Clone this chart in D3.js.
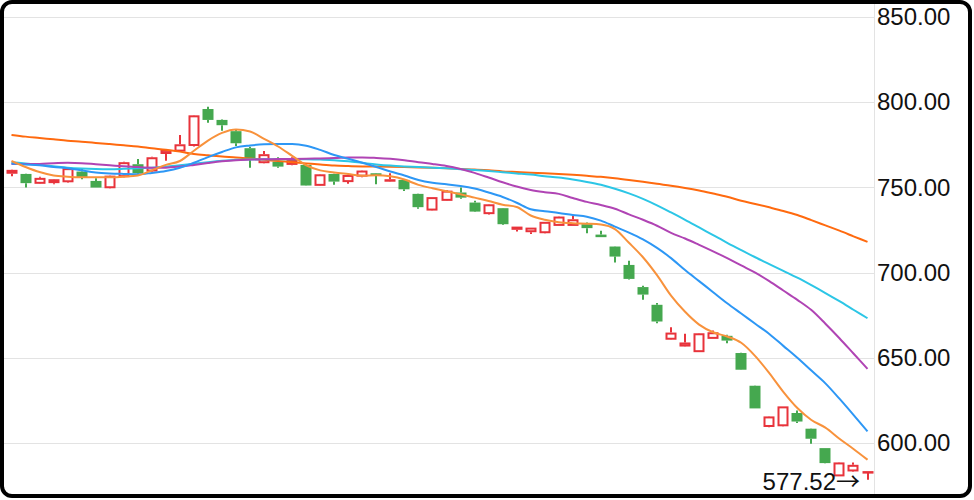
<!DOCTYPE html>
<html><head><meta charset="utf-8">
<script src="https://cdn.jsdelivr.net/npm/d3@7"></script>
<style>html,body{margin:0;padding:0;background:#fff;}svg{display:block;}</style>
</head><body>
<svg id="chart" width="974" height="500"></svg>
<script>
// ---- data ----
const opens  = [758.0,757.9,752.1,752.5,753.0,759.3,753.8,749.5,756.0,763.6,759.3,769.6,771.0,774.3,796.0,789.6,783.0,773.0,764.2,765.1,763.2,763.2,750.9,757.9,753.1,756.3,758.3,753.4,754.4,746.2,736.4,742.1,747.0,741.1,734.3,737.8,725.1,723.7,723.1,727.4,727.4,728.4,722.3,715.3,704.5,691.5,681.1,660.6,656.6,653.3,661.1,662.9,652.8,633.6,609.4,609.8,617.6,608.4,597.0,580.4,583.3,582.6];
const highs  = [760.5,758.0,756.2,755.0,761.5,761.3,755.4,757.0,765.0,766.7,768.0,772.0,780.8,792.5,797.4,789.8,784.1,773.9,771.4,767.7,767.7,763.5,757.8,758.0,757.4,760.0,758.5,758.3,755.0,746.3,744.4,748.5,749.9,742.1,740.2,737.9,727.0,726.5,729.9,733.0,733.3,729.4,724.5,715.4,706.9,692.3,682.1,668.0,664.1,664.5,666.0,663.5,652.9,633.7,615.7,621.6,619.0,608.5,597.1,588.7,588.6,583.6];
const lows   = [756.5,749.9,752.0,751.9,752.8,754.8,749.9,749.4,755.8,757.5,759.0,765.7,771.0,774.0,788.0,783.3,774.3,761.6,764.0,761.6,763.0,751.0,750.8,751.5,752.1,756.0,751.9,753.3,747.9,737.4,736.3,742.0,743.4,735.5,734.0,728.0,724.1,722.7,723.0,727.3,727.3,723.1,720.8,705.9,696.0,684.0,670.3,660.5,656.5,653.2,661.0,658.6,642.9,620.2,609.3,609.7,611.7,599.6,588.1,580.3,583.0,578.4];
const closes = [760.3,752.5,755.6,754.8,761.3,755.7,749.9,756.9,764.8,758.3,767.7,772.0,775.3,792.3,789.6,786.5,775.9,767.1,769.5,762.2,766.1,751.1,757.7,753.4,757.3,759.9,756.7,754.8,748.9,738.4,744.3,748.1,744.0,735.8,740.1,728.4,727.0,726.4,729.8,732.9,731.3,726.1,720.8,709.4,696.3,687.1,671.3,664.8,659.0,664.4,665.0,660.1,643.0,620.3,615.6,621.5,612.6,602.5,588.2,588.6,587.2,583.5];

const maLong  = [780.8,779.8,779.0,778.2,777.4,776.8,776.1,775.4,774.7,774.0,773.0,772.1,771.0,769.6,768.8,768.1,767.6,766.9,766.2,765.5,764.8,764.1,763.4,762.8,762.5,762.3,762.2,762.1,761.9,761.7,761.5,761.2,760.8,760.5,760.0,759.4,759.0,758.6,758.3,757.9,757.4,756.8,756.2,755.4,754.4,753.3,752.1,751.0,749.7,748.2,746.4,744.5,742.2,740.3,738.3,736.2,733.8,730.8,727.7,724.6,721.3,718.0];
const maCyan  = [764.8,764.0,763.2,762.4,761.6,761.1,760.8,760.7,760.9,761.2,761.6,762.1,763.0,763.9,764.8,765.6,766.2,766.4,766.5,766.5,766.5,766.5,766.3,766.0,765.3,764.4,763.5,762.8,762.3,761.9,761.6,761.2,760.7,760.2,759.6,758.9,758.2,757.5,756.6,755.8,754.6,753.2,751.5,749.2,746.5,743.3,739.5,735.3,731.0,726.5,722.0,717.5,713.2,709.0,705.0,701.0,697.0,692.6,688.0,683.2,678.2,673.2];
const maPurple= [763.8,763.7,763.8,764.2,764.4,764.2,763.6,763.0,762.4,761.9,761.6,761.6,762.2,763.2,764.3,765.3,766.0,766.3,766.5,766.6,766.7,766.8,767.0,767.2,767.5,767.6,767.3,766.8,766.0,764.8,763.8,762.6,760.8,758.5,755.8,753.0,750.5,748.5,747.2,746.2,743.8,741.5,739.7,737.5,734.2,731.0,727.5,723.3,720.0,716.3,712.5,708.5,704.2,700.0,695.0,689.5,684.0,678.0,670.0,661.5,652.5,643.5];
const maBlue  = [764.0,763.5,763.0,762.0,761.3,760.0,758.8,758.2,757.9,757.7,758.5,759.6,761.5,764.5,767.8,770.8,773.5,774.6,775.3,775.5,775.5,774.5,772.0,769.0,766.8,764.5,762.0,759.3,757.0,754.3,752.7,751.8,750.8,749.3,747.0,744.4,741.0,737.2,736.0,735.0,733.8,732.8,730.5,727.0,723.5,719.5,714.5,708.5,701.5,695.0,688.5,682.0,676.0,670.0,664.0,657.0,650.0,642.5,635.0,626.0,616.5,606.8];
const maShort = [765.5,762.0,759.0,757.0,756.3,756.0,756.0,756.0,756.3,757.0,760.0,763.2,765.5,771.5,777.5,782.0,784.0,782.8,778.5,774.0,768.5,763.0,760.0,758.8,757.8,756.8,757.2,756.5,754.6,751.5,749.5,747.8,746.0,744.0,742.0,739.8,738.5,733.5,731.0,729.6,729.0,728.7,728.2,725.5,717.5,709.0,698.5,686.5,677.0,669.5,665.0,662.5,658.8,651.0,641.0,630.0,620.5,613.5,609.0,602.5,596.5,590.2];

const yTicks = [600, 650, 700, 750, 800, 850];
const lastPrice = 577.52;

// ---- layout ----
const W = 974, H = 500;
const plotRight = 874;
const svg = d3.select("#chart");
const n = closes.length;
const x = d3.scaleLinear().domain([0, n - 1]).range([11.5, 867.5]);
const y = d3.scaleLinear().domain([600, 850]).range([443, 17]);
const FONT = "'Liberation Sans', Arial, Helvetica, sans-serif";

svg.append("defs").append("clipPath").attr("id", "pc")
  .append("rect").attr("x", 4).attr("y", 4).attr("width", plotRight - 4).attr("height", 490);

// grid
svg.append("g").selectAll("line").data(yTicks).join("line")
  .attr("x1", 4).attr("x2", plotRight)
  .attr("y1", d => Math.round(y(d)) + 0.5).attr("y2", d => Math.round(y(d)) + 0.5)
  .attr("stroke", "#e3e3e3").attr("stroke-width", 1);

// vertical separator
svg.append("line").attr("x1", plotRight + 0.5).attr("x2", plotRight + 0.5)
  .attr("y1", 4).attr("y2", 496).attr("stroke", "#e3e3e3");

// axis labels
const axis = d3.axisRight(y).tickValues(yTicks).tickFormat(d3.format(".2f")).tickSize(0).tickPadding(3);
const ag = svg.append("g").attr("transform", `translate(${plotRight},0)`).call(axis);
ag.select(".domain").remove();
ag.selectAll("text").attr("font-family", FONT).attr("font-size", 24).attr("fill", "#111");

const plot = svg.append("g").attr("clip-path", "url(#pc)");

const RED = "#e8333b", GREEN = "#45a84f";
const bw = 11;
const candles = d3.range(n).map(i => ({i, o: opens[i], h: highs[i], l: lows[i], c: closes[i]}));
const cg = plot.append("g");
candles.forEach(d => {
  const up = d.c >= d.o;
  const cx = Math.round(x(d.i));
  const top = y(Math.max(d.o, d.c)), bot = y(Math.min(d.o, d.c));
  const col = up ? RED : GREEN;
  cg.append("line").attr("x1", cx).attr("x2", cx).attr("y1", y(d.h)).attr("y2", top)
    .attr("stroke", col).attr("stroke-width", 2);
  cg.append("line").attr("x1", cx).attr("x2", cx).attr("y1", bot).attr("y2", y(d.l))
    .attr("stroke", col).attr("stroke-width", 2);
  if (up) {
    const hgt = Math.max(bot - top, 2);
    cg.append("rect").attr("x", cx - bw / 2 + 1).attr("y", top + 1)
      .attr("width", bw - 2).attr("height", Math.max(hgt - 2, 0.5))
      .attr("fill", "#fff").attr("stroke", col).attr("stroke-width", 2);
  } else {
    cg.append("rect").attr("x", cx - bw / 2).attr("y", top)
      .attr("width", bw).attr("height", Math.max(bot - top, 1.5)).attr("fill", col);
  }
});

// moving averages
const series = [
  {v: maLong, c: "#ff6a0f"},
  {v: maCyan, c: "#2cc6e6"},
  {v: maPurple, c: "#b044b4"},
  {v: maBlue, c: "#2d97f5"},
  {v: maShort, c: "#f8923c"}
];
const line = d3.line().x((d, i) => x(i)).y(d => y(d)).curve(d3.curveMonotoneX);
plot.append("g").selectAll("path").data(series).join("path")
  .attr("d", d => line(d.v)).attr("fill", "none")
  .attr("stroke", d => d.c).attr("stroke-width", 2);

// last price label
const lp = svg.append("text").attr("x", 860).attr("y", y(lastPrice)).attr("dy", "0.35em")
  .attr("text-anchor", "end").attr("font-family", FONT)
  .attr("font-size", 24).attr("fill", "#111");
lp.append("tspan").text(d3.format(".2f")(lastPrice));
lp.append("tspan").attr("font-family", "'Noto Sans CJK SC', 'DejaVu Sans', sans-serif").text("\u2192");

// frame
svg.append("rect").attr("x", 2).attr("y", 2).attr("width", 968).attr("height", 494)
  .attr("rx", 10).attr("fill", "none").attr("stroke", "#000").attr("stroke-width", 4);
</script>
</body></html>
